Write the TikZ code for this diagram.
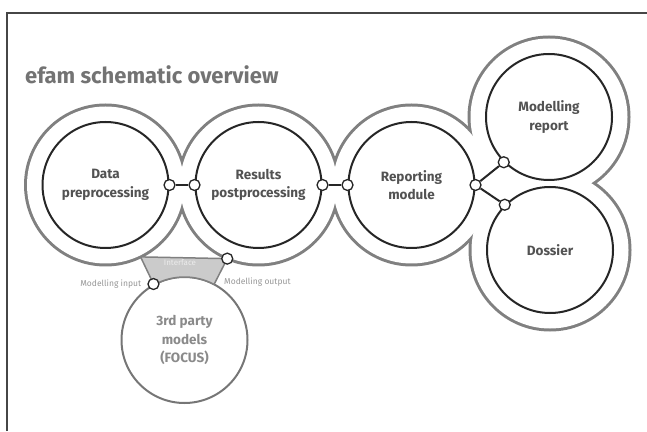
\documentclass[tikz,border=0pt]{standalone}
\usepackage{fontspec}
\setmainfont{Fira Sans}
\usepackage{tikz}
\usetikzlibrary{positioning, backgrounds}
\definecolor{ringgray}{RGB}{128,128,128}
\definecolor{innerline}{RGB}{38,38,38}
\definecolor{labelgray}{RGB}{82,82,82}
\definecolor{titlegray}{RGB}{115,115,115}
\definecolor{thirdgray}{RGB}{118,118,118}
\definecolor{ifacefill}{RGB}{203,203,203}
\definecolor{notegray}{RGB}{150,150,150}
\definecolor{framegray}{RGB}{70,70,70}

\begin{document}
\begin{tikzpicture}[x=1pt, y=1pt,
    stage/.style={circle, draw=innerline, line width=2pt, minimum size=126pt,
    inner sep=0pt, align=center, text=labelgray,
    font=\bfseries\fontsize{13.5}{18.5}\selectfont},
    extern/.style={stage, draw=thirdgray, text=thirdgray!85!white},
    port/.style={circle, draw=innerline, fill=white, line width=1.3pt,
    minimum size=11pt, inner sep=0pt},
    link/.style={line width=2pt, draw=innerline},
    iface/.style={fill=ifacefill, draw=ringgray, line width=1.5pt},
    note/.style={text=notegray, font=\fontsize{8.5}{10}\selectfont, inner sep=0pt},
    title/.style={text=titlegray, font=\bfseries\fontsize{22}{26}\selectfont, inner sep=0pt}
]

\useasboundingbox (0,0) rectangle (647,431);
\draw[framegray, line width=1.5pt] (7,0) -- (7,418) -- (647,418);

\node[title, anchor=west] (heading) at (25,356) {efam schematic overview};

\node[stage] (data) at (105.5,246) {Data\\preprocessing};
\node[stage, right=25pt of data] (results) {Results\\postprocessing};
\node[stage, right=25pt of results] (reporting) {Reporting\\module};
\node[stage] (modrep) at (549,314) {Modelling\\report};
\node[stage] (dossier) at (550,181) {Dossier};
\node[extern] (third) at (184.5,91) {3rd party\\models\\(FOCUS)};

\begin{pgfonlayer}{background}
\foreach \n in {data,results,reporting,modrep,dossier}
    \fill[ringgray] (\n.center) circle (81.5);
\foreach \n in {data,results,reporting,modrep,dossier}
    \fill[white] (\n.center) circle (78.5);
\fill[white] (reporting.center) -- (modrep.center) -- (dossier.center) -- cycle;
\end{pgfonlayer}

\coordinate (ifacetl) at ([shift={(296:80)}]data.center);
\coordinate (ifacetr) at ([shift={(247:80)}]results.center);
\filldraw[iface] (ifacetl) -- (ifacetr) -- ([shift={(62:63)}]third.center)
    arc[start angle=62, end angle=119, radius=63] -- cycle;
\node[port] (p9) at (ifacetr) {};
\node[port] (p8) at (third.119) {};
\node[text=white!85!ringgray, font=\fontsize{8}{9}\selectfont] (ifacelabel) at (180,168) {Interface};

\node[port] (p1) at (data.east) {};
\node[port] (p2) at (results.west) {};
\node[port] (p3) at (results.east) {};
\node[port] (p4) at (reporting.west) {};
\node[port] (p5) at (reporting.east) {};
\node[port] (p6) at (modrep.225) {};
\node[port] (p7) at (dossier.135) {};

\draw[link] (p1) -- (p2);
\draw[link] (p3) -- (p4);
\draw[link] (p5) -- (p6);
\draw[link] (p5) -- (p7);

\node[note, left=6pt of p8] (inlabel) {Modelling input};
\node[note, anchor=west] (outlabel) at (224,149) {Modelling output};

\end{tikzpicture}
\end{document}
